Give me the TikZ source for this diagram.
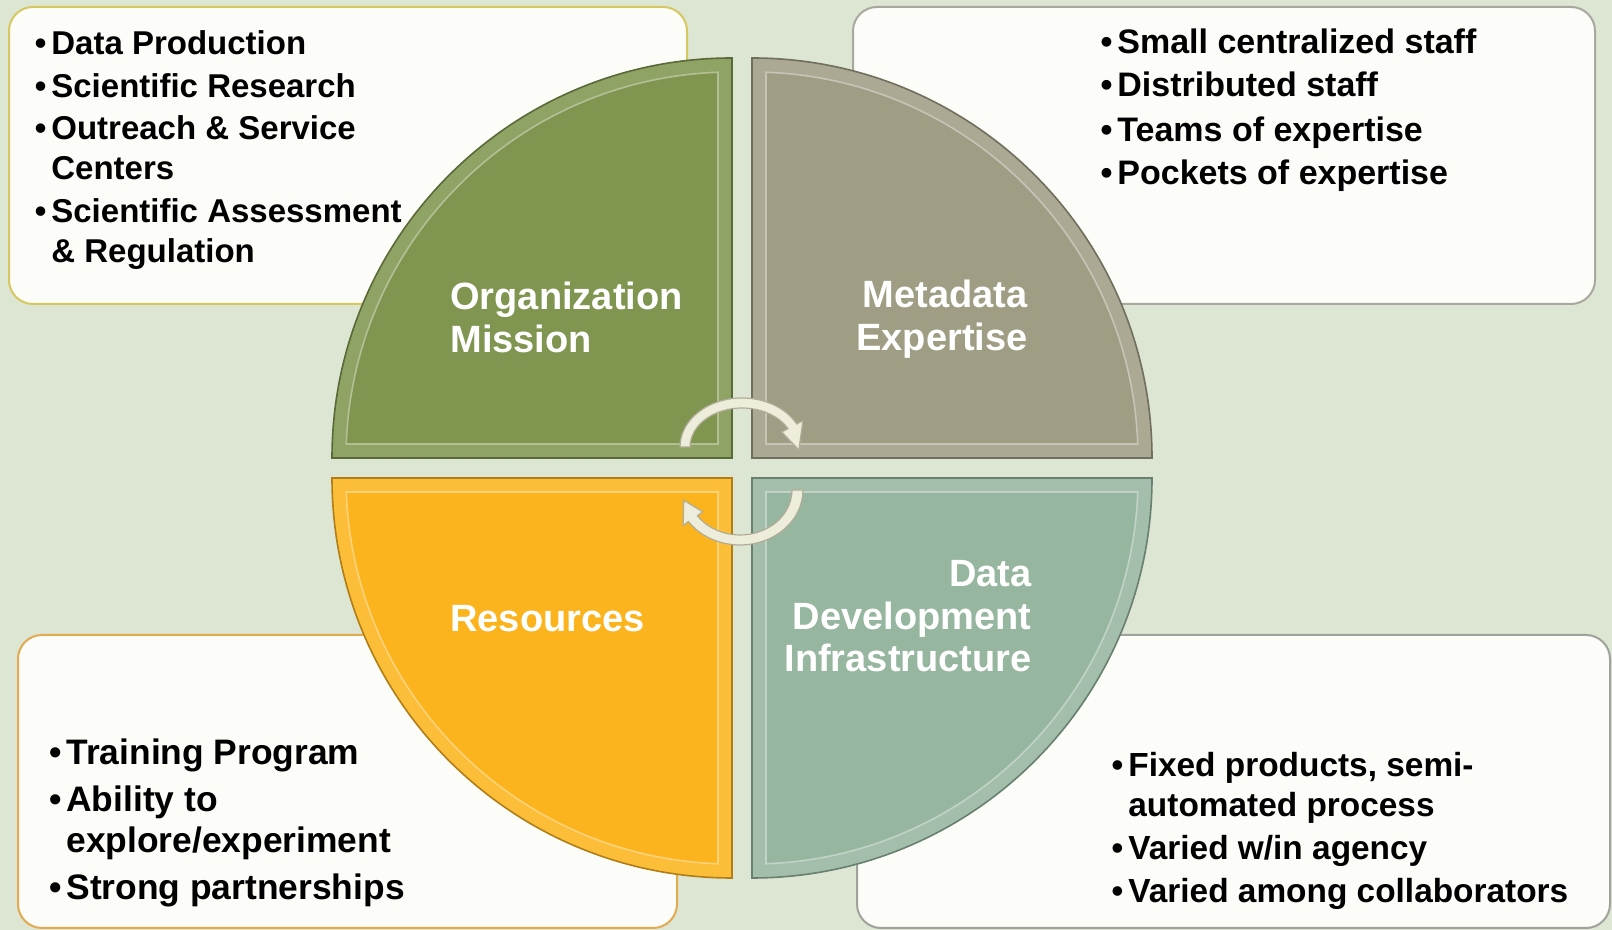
\documentclass[tikz,border=0pt]{standalone}
\usepackage{fontspec}
\setmainfont{Liberation Sans}
\definecolor{bg}{RGB}{221,229,211}
\definecolor{boxfill}{RGB}{252,253,249}
\definecolor{tlline}{RGB}{214,200,96}
\definecolor{trline}{RGB}{168,168,158}
\definecolor{blline}{RGB}{226,170,80}
\definecolor{brline}{RGB}{160,162,156}
\definecolor{mgreen}{RGB}{128,150,80}
\definecolor{mgray}{RGB}{160,157,133}
\definecolor{morange}{RGB}{252,180,30}
\definecolor{mteal}{RGB}{150,182,160}
\definecolor{arrowfill}{RGB}{238,237,220}
\definecolor{arrowline}{RGB}{176,173,150}
\newcommand{\blt}{\llap{\textbullet\hspace{2.5pt}}}
\begin{document}
\begin{tikzpicture}[x=0.5pt, y=0.5pt,
            box/.style = {fill=boxfill, line width=1pt, rounded corners=12pt},
            item/.style = {anchor=base west, inner sep=0pt, font=\fontsize{16.5}{20}\selectfont\bfseries},
            title/.style = {inner sep=0pt, text=white, font=\fontsize{19}{22}\selectfont\bfseries},
            turn/.style = {fill=arrowfill, draw=arrowline, line width=0.6pt}]
                \useasboundingbox (0,0) rectangle (1612,930);
                \fill[bg] (0,0) rectangle (1612,930);

                \draw[box, draw=tlline] (9,626) rectangle (687,923);
                \draw[box, draw=trline] (853,626) rectangle (1595,923);
                \draw[box, draw=blline] (18,2) rectangle (677,295);
                \draw[box, draw=brline] (857,2) rectangle (1610,295);

                \foreach \r/\c in {0/mgreen, 90/morange, 180/mteal, 270/mgray} {
                    \begin{scope}[shift={(742,462)}, rotate=\r]
                        \filldraw[fill=\c!88!white, draw=\c!70!black, line width=0.8pt]
                            (-10,10) -- (-410,10) arc[start angle=180, end angle=90, radius=400] -- cycle;
                        \filldraw[fill=\c, draw=\c!60!white, line width=0.8pt]
                            (-24,24) -- (-395.75,24) arc[start angle=177.92, end angle=92.08, radius=386] -- cycle;
                    \end{scope}
                }

                \begin{scope}[shift={(742,483)}]
                    \filldraw[turn] (180:62 and 49) arc[start angle=180, end angle=28, x radius=62, y radius=49]
                        -- (28:69 and 56) -- (-4:57 and 44) -- (28:45 and 32) -- (28:52 and 39)
                        arc[start angle=28, end angle=180, x radius=52, y radius=39] -- cycle;
                \end{scope}
                \begin{scope}[shift={(740,440)}]
                    \filldraw[turn] (0:63 and 55) arc[start angle=0, end angle=-145, x radius=63, y radius=55]
                        -- (-145:69.5 and 62) -- (-168:57.5 and 50) -- (-145:45.5 and 38) -- (-145:52 and 45)
                        arc[start angle=-145, end angle=0, x radius=52, y radius=45] -- cycle;
                \end{scope}

                \node[title, anchor=base west] (org) at (450,620) {Organization};
                \node[title, anchor=base west] (mis) at (450,577) {Mission};
                \node[title, anchor=base east] (meta) at (1028,622) {Metadata};
                \node[title, anchor=base east] (expt) at (1028,579) {Expertise};
                \node[title, anchor=base west] (res) at (450,298) {Resources};
                \node[title, anchor=base east] (ddata) at (1032,343) {Data};
                \node[title, anchor=base east] (ddev) at (1032,300) {Development};
                \node[title, anchor=base east] (dinf) at (1032,258) {Infrastructure};

                \foreach \y/\t [count=\i] in {875/{\blt Data Production}, 832/{\blt Scientific Research},
                        790/{\blt Outreach \& Service}, 750/{Centers}, 707/{\blt Scientific Assessment}, 667/{\& Regulation}}
                    \node[item] (tl\i) at (51,\y) {\t};
                \foreach \y/\t [count=\i] in {876/{\blt Small centralized staff}, 833/{\blt Distributed staff},
                        788/{\blt Teams of expertise}, 745/{\blt Pockets of expertise}}
                    \node[item, font=\fontsize{17}{20}\selectfont\bfseries] (tr\i) at (1117,\y) {\t};
                \foreach \y/\t [count=\i] in {165/{\blt Training Program}, 118/{\blt Ability to},
                        77/{explore/experiment}, 30/{\blt Strong partnerships}}
                    \node[item, font=\fontsize{17.7}{21}\selectfont\bfseries] (bl\i) at (66,\y) {\t};
                \foreach \y/\t [count=\i] in {153/{\blt Fixed products, semi-}, 113/{automated process},
                        70/{\blt Varied w/in agency}, 27/{\blt Varied among collaborators}}
                    \node[item, font=\fontsize{16.7}{20}\selectfont\bfseries] (br\i) at (1128,\y) {\t};
        \end{tikzpicture}
\end{document}
